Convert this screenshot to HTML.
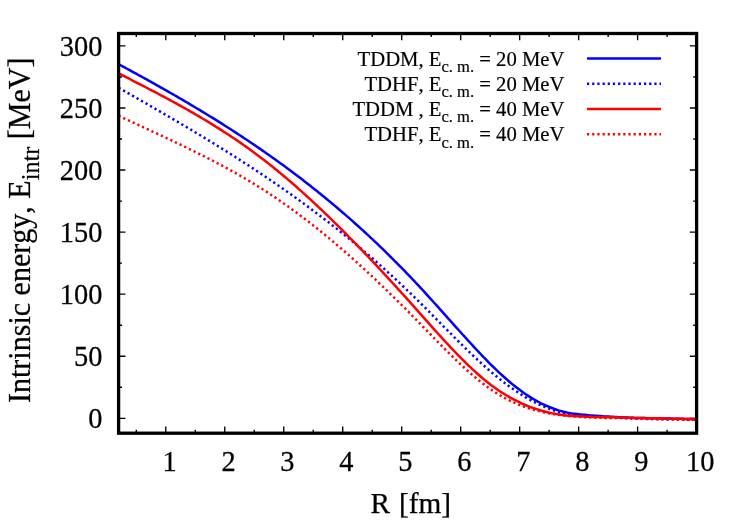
<!DOCTYPE html>
<html><head><meta charset="utf-8"><title>Intrinsic energy</title>
<style>
html,body{margin:0;padding:0;background:#fff;}
body{width:747px;height:523px;overflow:hidden;font-family:"Liberation Serif",serif;}
svg{display:block;will-change:transform;}
text{font-family:"Liberation Serif",serif;fill:#000;font-kerning:none;font-variant-ligatures:none;stroke:#000;stroke-width:0.25px;stroke-linejoin:round;}
.lg text{stroke-width:0.18px;}
</style></head><body>
<svg width="747" height="523" viewBox="0 0 747 523">
<rect width="747" height="523" fill="#fff"/>
<g stroke="#000" stroke-width="1.35" fill="none">
<path d="M136.29,433.2 v-3.4 M136.29,33.5 v3.4"/><path d="M165.78,433.2 v-6.8 M165.78,33.5 v6.8"/><path d="M195.27,433.2 v-3.4 M195.27,33.5 v3.4"/><path d="M224.76,433.2 v-6.8 M224.76,33.5 v6.8"/><path d="M254.25,433.2 v-3.4 M254.25,33.5 v3.4"/><path d="M283.74,433.2 v-6.8 M283.74,33.5 v6.8"/><path d="M313.23,433.2 v-3.4 M313.23,33.5 v3.4"/><path d="M342.72,433.2 v-6.8 M342.72,33.5 v6.8"/><path d="M372.21,433.2 v-3.4 M372.21,33.5 v3.4"/><path d="M401.70,433.2 v-6.8 M401.70,33.5 v6.8"/><path d="M431.19,433.2 v-3.4 M431.19,33.5 v3.4"/><path d="M460.68,433.2 v-6.8 M460.68,33.5 v6.8"/><path d="M490.17,433.2 v-3.4 M490.17,33.5 v3.4"/><path d="M519.66,433.2 v-6.8 M519.66,33.5 v6.8"/><path d="M549.15,433.2 v-3.4 M549.15,33.5 v3.4"/><path d="M578.64,433.2 v-6.8 M578.64,33.5 v6.8"/><path d="M608.13,433.2 v-3.4 M608.13,33.5 v3.4"/><path d="M637.62,433.2 v-6.8 M637.62,33.5 v6.8"/><path d="M667.11,433.2 v-3.4 M667.11,33.5 v3.4"/><path d="M696.60,433.2 v-6.8 M696.60,33.5 v6.8"/><path d="M118.6,418.30 h6.8 M696.6,418.30 h-6.8"/><path d="M118.6,387.27 h3.4 M696.6,387.27 h-3.4"/><path d="M118.6,356.24 h6.8 M696.6,356.24 h-6.8"/><path d="M118.6,325.21 h3.4 M696.6,325.21 h-3.4"/><path d="M118.6,294.17 h6.8 M696.6,294.17 h-6.8"/><path d="M118.6,263.14 h3.4 M696.6,263.14 h-3.4"/><path d="M118.6,232.11 h6.8 M696.6,232.11 h-6.8"/><path d="M118.6,201.08 h3.4 M696.6,201.08 h-3.4"/><path d="M118.6,170.04 h6.8 M696.6,170.04 h-6.8"/><path d="M118.6,139.01 h3.4 M696.6,139.01 h-3.4"/><path d="M118.6,107.98 h6.8 M696.6,107.98 h-6.8"/><path d="M118.6,76.95 h3.4 M696.6,76.95 h-3.4"/><path d="M118.6,45.91 h6.8 M696.6,45.91 h-6.8"/>
</g>
<g fill="none" stroke-width="2.5" stroke-linejoin="round">
<path d="M118.6,64.20 L120.6,65.27 L122.6,66.35 L124.6,67.44 L126.6,68.52 L128.6,69.61 L130.6,70.69 L132.6,71.78 L134.6,72.87 L136.6,73.97 L138.6,75.06 L140.6,76.16 L142.6,77.26 L144.6,78.37 L146.6,79.47 L148.6,80.58 L150.6,81.70 L152.6,82.81 L154.6,83.93 L156.6,85.05 L158.6,86.17 L160.6,87.30 L162.6,88.43 L164.6,89.56 L166.6,90.70 L168.6,91.84 L170.6,92.98 L172.6,94.13 L174.6,95.28 L176.6,96.43 L178.6,97.59 L180.6,98.75 L182.6,99.92 L184.6,101.09 L186.6,102.26 L188.6,103.44 L190.6,104.63 L192.6,105.81 L194.6,107.00 L196.6,108.20 L198.6,109.40 L200.6,110.60 L202.6,111.81 L204.6,113.03 L206.6,114.25 L208.6,115.47 L210.6,116.70 L212.6,117.93 L214.6,119.17 L216.6,120.41 L218.6,121.66 L220.6,122.92 L222.6,124.18 L224.6,125.44 L226.6,126.72 L228.6,127.99 L230.6,129.27 L232.6,130.56 L234.6,131.86 L236.6,133.16 L238.6,134.46 L240.6,135.77 L242.6,137.09 L244.6,138.42 L246.6,139.75 L248.6,141.08 L250.6,142.43 L252.6,143.78 L254.6,145.13 L256.6,146.50 L258.6,147.87 L260.6,149.24 L262.6,150.63 L264.6,152.02 L266.6,153.41 L268.6,154.82 L270.6,156.23 L272.6,157.65 L274.6,159.07 L276.6,160.51 L278.6,161.95 L280.6,163.40 L282.6,164.85 L284.6,166.32 L286.6,167.79 L288.6,169.27 L290.6,170.75 L292.6,172.25 L294.6,173.75 L296.6,175.26 L298.6,176.78 L300.6,178.31 L302.6,179.85 L304.6,181.39 L306.6,182.94 L308.6,184.50 L310.6,186.07 L312.6,187.65 L314.6,189.24 L316.6,190.84 L318.6,192.44 L320.6,194.06 L322.6,195.68 L324.6,197.31 L326.6,198.95 L328.6,200.60 L330.6,202.27 L332.6,203.93 L334.6,205.61 L336.6,207.30 L338.6,209.00 L340.6,210.71 L342.6,212.43 L344.6,214.16 L346.6,215.89 L348.6,217.64 L350.6,219.40 L352.6,221.17 L354.6,222.94 L356.6,224.73 L358.6,226.53 L360.6,228.34 L362.6,230.16 L364.6,231.99 L366.6,233.83 L368.6,235.69 L370.6,237.55 L372.6,239.42 L374.6,241.31 L376.6,243.20 L378.6,245.11 L380.6,247.03 L382.6,248.96 L384.6,250.90 L386.6,252.85 L388.6,254.81 L390.6,256.79 L392.6,258.77 L394.6,260.77 L396.6,262.78 L398.6,264.80 L400.6,266.84 L402.6,268.88 L404.6,270.94 L406.6,273.01 L408.6,275.09 L410.6,277.19 L412.6,279.30 L414.6,281.41 L416.6,283.55 L418.6,285.69 L420.6,287.85 L422.6,290.02 L424.6,292.19 L426.6,294.38 L428.6,296.58 L430.6,298.79 L432.6,301.00 L434.6,303.22 L436.6,305.44 L438.6,307.67 L440.6,309.91 L442.6,312.14 L444.6,314.38 L446.6,316.62 L448.6,318.86 L450.6,321.10 L452.6,323.33 L454.6,325.57 L456.6,327.80 L458.6,330.03 L460.6,332.25 L462.6,334.47 L464.6,336.68 L466.6,338.88 L468.6,341.08 L470.6,343.26 L472.6,345.44 L474.6,347.60 L476.6,349.75 L478.6,351.89 L480.6,354.00 L482.6,356.10 L484.6,358.18 L486.6,360.24 L488.6,362.27 L490.6,364.28 L492.6,366.26 L494.6,368.22 L496.6,370.14 L498.6,372.04 L500.6,373.90 L502.6,375.73 L504.6,377.53 L506.6,379.29 L508.6,381.02 L510.6,382.71 L512.6,384.36 L514.6,385.97 L516.6,387.55 L518.6,389.08 L520.6,390.57 L522.6,392.02 L524.6,393.43 L526.6,394.79 L528.6,396.10 L530.6,397.37 L532.6,398.59 L534.6,399.77 L536.6,400.90 L538.6,401.98 L540.6,403.02 L542.6,404.01 L544.6,404.96 L546.6,405.86 L548.6,406.72 L550.6,407.53 L552.6,408.29 L554.6,409.02 L556.6,409.69 L558.6,410.33 L560.6,410.92 L562.6,411.47 L564.6,411.97 L566.6,412.43 L568.6,412.85 L570.6,413.23 L572.6,413.56 L574.6,413.82 L576.6,414.06 L578.6,414.28 L580.6,414.49 L582.6,414.68 L584.6,414.86 L586.6,415.04 L588.6,415.21 L590.6,415.38 L592.6,415.54 L594.6,415.69 L596.6,415.84 L598.6,415.98 L600.6,416.12 L602.6,416.25 L604.6,416.38 L606.6,416.50 L608.6,416.61 L610.6,416.72 L612.6,416.83 L614.6,416.93 L616.6,417.03 L618.6,417.13 L620.6,417.23 L622.6,417.33 L624.6,417.44 L626.6,417.54 L628.6,417.64 L630.6,417.74 L632.6,417.82 L634.6,417.89 L636.6,417.94 L638.6,418.00 L640.6,418.04 L642.6,418.09 L644.6,418.12 L646.6,418.16 L648.6,418.20 L650.6,418.23 L652.6,418.27 L654.6,418.30 L656.6,418.34 L658.6,418.37 L660.6,418.41 L662.6,418.45 L664.6,418.49 L666.6,418.53 L668.6,418.57 L670.6,418.61 L672.6,418.65 L674.6,418.69 L676.6,418.73 L678.6,418.77 L680.6,418.81 L682.6,418.85 L684.6,418.89 L686.6,418.92 L688.6,418.96 L690.6,419.00 L692.6,419.03 L694.6,419.07 L696.6,419.10" stroke="#0000ff"/>
<path d="M118.6,87.75 L120.6,88.90 L122.6,90.04 L124.6,91.18 L126.6,92.32 L128.6,93.46 L130.6,94.61 L132.6,95.75 L134.6,96.89 L136.6,98.04 L138.6,99.19 L140.6,100.33 L142.6,101.48 L144.6,102.63 L146.6,103.78 L148.6,104.93 L150.6,106.08 L152.6,107.23 L154.6,108.39 L156.6,109.55 L158.6,110.70 L160.6,111.86 L162.6,113.02 L164.6,114.19 L166.6,115.35 L168.6,116.52 L170.6,117.69 L172.6,118.86 L174.6,120.03 L176.6,121.20 L178.6,122.38 L180.6,123.56 L182.6,124.74 L184.6,125.93 L186.6,127.11 L188.6,128.30 L190.6,129.50 L192.6,130.69 L194.6,131.89 L196.6,133.09 L198.6,134.29 L200.6,135.50 L202.6,136.71 L204.6,137.92 L206.6,139.14 L208.6,140.36 L210.6,141.58 L212.6,142.81 L214.6,144.04 L216.6,145.27 L218.6,146.51 L220.6,147.75 L222.6,148.99 L224.6,150.24 L226.6,151.49 L228.6,152.75 L230.6,154.01 L232.6,155.28 L234.6,156.55 L236.6,157.82 L238.6,159.10 L240.6,160.38 L242.6,161.67 L244.6,162.96 L246.6,164.26 L248.6,165.56 L250.6,166.86 L252.6,168.17 L254.6,169.49 L256.6,170.81 L258.6,172.14 L260.6,173.47 L262.6,174.81 L264.6,176.15 L266.6,177.49 L268.6,178.85 L270.6,180.21 L272.6,181.57 L274.6,182.94 L276.6,184.32 L278.6,185.70 L280.6,187.08 L282.6,188.48 L284.6,189.88 L286.6,191.28 L288.6,192.70 L290.6,194.11 L292.6,195.54 L294.6,196.97 L296.6,198.41 L298.6,199.85 L300.6,201.30 L302.6,202.76 L304.6,204.22 L306.6,205.69 L308.6,207.17 L310.6,208.66 L312.6,210.15 L314.6,211.65 L316.6,213.15 L318.6,214.67 L320.6,216.19 L322.6,217.72 L324.6,219.25 L326.6,220.80 L328.6,222.35 L330.6,223.91 L332.6,225.48 L334.6,227.05 L336.6,228.63 L338.6,230.22 L340.6,231.82 L342.6,233.43 L344.6,235.05 L346.6,236.67 L348.6,238.30 L350.6,239.94 L352.6,241.59 L354.6,243.25 L356.6,244.91 L358.6,246.59 L360.6,248.27 L362.6,249.97 L364.6,251.67 L366.6,253.38 L368.6,255.10 L370.6,256.83 L372.6,258.56 L374.6,260.31 L376.6,262.07 L378.6,263.84 L380.6,265.61 L382.6,267.40 L384.6,269.19 L386.6,271.00 L388.6,272.81 L390.6,274.64 L392.6,276.47 L394.6,278.32 L396.6,280.17 L398.6,282.04 L400.6,283.91 L402.6,285.80 L404.6,287.69 L406.6,289.60 L408.6,291.52 L410.6,293.44 L412.6,295.38 L414.6,297.33 L416.6,299.29 L418.6,301.26 L420.6,303.24 L422.6,305.23 L424.6,307.23 L426.6,309.23 L428.6,311.24 L430.6,313.26 L432.6,315.28 L434.6,317.30 L436.6,319.33 L438.6,321.36 L440.6,323.38 L442.6,325.41 L444.6,327.44 L446.6,329.46 L448.6,331.48 L450.6,333.49 L452.6,335.50 L454.6,337.51 L456.6,339.51 L458.6,341.50 L460.6,343.48 L462.6,345.45 L464.6,347.41 L466.6,349.35 L468.6,351.29 L470.6,353.21 L472.6,355.12 L474.6,357.01 L476.6,358.88 L478.6,360.74 L480.6,362.58 L482.6,364.40 L484.6,366.20 L486.6,367.98 L488.6,369.73 L490.6,371.47 L492.6,373.18 L494.6,374.86 L496.6,376.52 L498.6,378.15 L500.6,379.76 L502.6,381.33 L504.6,382.88 L506.6,384.39 L508.6,385.88 L510.6,387.33 L512.6,388.76 L514.6,390.15 L516.6,391.51 L518.6,392.84 L520.6,394.13 L522.6,395.39 L524.6,396.62 L526.6,397.81 L528.6,398.97 L530.6,400.10 L532.6,401.19 L534.6,402.24 L536.6,403.26 L538.6,404.24 L540.6,405.18 L542.6,406.09 L544.6,406.96 L546.6,407.79 L548.6,408.58 L550.6,409.33 L552.6,410.04 L554.6,410.71 L556.6,411.35 L558.6,411.94 L560.6,412.49 L562.6,413.00 L564.6,413.46 L566.6,413.89 L568.6,414.27 L570.6,414.62 L572.6,414.90 L574.6,415.13 L576.6,415.34 L578.6,415.53 L580.6,415.70 L582.6,415.86 L584.6,416.01 L586.6,416.16 L588.6,416.30 L590.6,416.44 L592.6,416.58 L594.6,416.72 L596.6,416.85 L598.6,416.97 L600.6,417.08 L602.6,417.19 L604.6,417.28 L606.6,417.37 L608.6,417.44 L610.6,417.50 L612.6,417.57 L614.6,417.63 L616.6,417.69 L618.6,417.75 L620.6,417.82 L622.6,417.90 L624.6,417.98 L626.6,418.07 L628.6,418.15 L630.6,418.24 L632.6,418.31 L634.6,418.39 L636.6,418.45 L638.6,418.52 L640.6,418.58 L642.6,418.64 L644.6,418.70 L646.6,418.76 L648.6,418.81 L650.6,418.87 L652.6,418.92 L654.6,418.97 L656.6,419.02 L658.6,419.07 L660.6,419.11 L662.6,419.16 L664.6,419.20 L666.6,419.24 L668.6,419.28 L670.6,419.32 L672.6,419.36 L674.6,419.40 L676.6,419.44 L678.6,419.47 L680.6,419.51 L682.6,419.55 L684.6,419.59 L686.6,419.62 L688.6,419.66 L690.6,419.70 L692.6,419.73 L694.6,419.77 L696.6,419.80" stroke="#0000ff" stroke-dasharray="2.2 2.98"/>
<path d="M118.6,73.35 L120.6,74.38 L122.6,75.40 L124.6,76.43 L126.6,77.45 L128.6,78.47 L130.6,79.50 L132.6,80.52 L134.6,81.55 L136.6,82.58 L138.6,83.61 L140.6,84.64 L142.6,85.67 L144.6,86.70 L146.6,87.74 L148.6,88.78 L150.6,89.82 L152.6,90.86 L154.6,91.91 L156.6,92.96 L158.6,94.02 L160.6,95.08 L162.6,96.14 L164.6,97.20 L166.6,98.27 L168.6,99.35 L170.6,100.43 L172.6,101.52 L174.6,102.61 L176.6,103.70 L178.6,104.80 L180.6,105.91 L182.6,107.02 L184.6,108.14 L186.6,109.27 L188.6,110.40 L190.6,111.54 L192.6,112.69 L194.6,113.84 L196.6,115.00 L198.6,116.17 L200.6,117.35 L202.6,118.54 L204.6,119.73 L206.6,120.93 L208.6,122.14 L210.6,123.36 L212.6,124.59 L214.6,125.83 L216.6,127.08 L218.6,128.34 L220.6,129.61 L222.6,130.89 L224.6,132.18 L226.6,133.48 L228.6,134.79 L230.6,136.11 L232.6,137.45 L234.6,138.79 L236.6,140.15 L238.6,141.52 L240.6,142.90 L242.6,144.29 L244.6,145.70 L246.6,147.12 L248.6,148.55 L250.6,150.00 L252.6,151.46 L254.6,152.93 L256.6,154.42 L258.6,155.92 L260.6,157.43 L262.6,158.96 L264.6,160.51 L266.6,162.07 L268.6,163.64 L270.6,165.22 L272.6,166.82 L274.6,168.44 L276.6,170.07 L278.6,171.71 L280.6,173.36 L282.6,175.03 L284.6,176.71 L286.6,178.40 L288.6,180.10 L290.6,181.82 L292.6,183.55 L294.6,185.30 L296.6,187.05 L298.6,188.82 L300.6,190.60 L302.6,192.39 L304.6,194.19 L306.6,196.00 L308.6,197.83 L310.6,199.67 L312.6,201.51 L314.6,203.37 L316.6,205.24 L318.6,207.12 L320.6,209.01 L322.6,210.91 L324.6,212.83 L326.6,214.75 L328.6,216.68 L330.6,218.62 L332.6,220.57 L334.6,222.53 L336.6,224.50 L338.6,226.48 L340.6,228.47 L342.6,230.47 L344.6,232.48 L346.6,234.50 L348.6,236.52 L350.6,238.55 L352.6,240.60 L354.6,242.65 L356.6,244.70 L358.6,246.77 L360.6,248.85 L362.6,250.93 L364.6,253.02 L366.6,255.11 L368.6,257.22 L370.6,259.33 L372.6,261.45 L374.6,263.58 L376.6,265.71 L378.6,267.85 L380.6,269.99 L382.6,272.15 L384.6,274.31 L386.6,276.47 L388.6,278.64 L390.6,280.82 L392.6,283.00 L394.6,285.19 L396.6,287.38 L398.6,289.58 L400.6,291.79 L402.6,294.00 L404.6,296.21 L406.6,298.43 L408.6,300.66 L410.6,302.88 L412.6,305.12 L414.6,307.36 L416.6,309.60 L418.6,311.84 L420.6,314.09 L422.6,316.34 L424.6,318.59 L426.6,320.84 L428.6,323.08 L430.6,325.33 L432.6,327.57 L434.6,329.80 L436.6,332.02 L438.6,334.24 L440.6,336.44 L442.6,338.64 L444.6,340.82 L446.6,342.99 L448.6,345.14 L450.6,347.27 L452.6,349.39 L454.6,351.49 L456.6,353.57 L458.6,355.63 L460.6,357.67 L462.6,359.68 L464.6,361.67 L466.6,363.63 L468.6,365.56 L470.6,367.47 L472.6,369.34 L474.6,371.19 L476.6,373.00 L478.6,374.77 L480.6,376.52 L482.6,378.22 L484.6,379.89 L486.6,381.52 L488.6,383.10 L490.6,384.65 L492.6,386.15 L494.6,387.61 L496.6,389.03 L498.6,390.41 L500.6,391.74 L502.6,393.04 L504.6,394.29 L506.6,395.50 L508.6,396.67 L510.6,397.81 L512.6,398.90 L514.6,399.96 L516.6,400.98 L518.6,401.96 L520.6,402.90 L522.6,403.81 L524.6,404.68 L526.6,405.52 L528.6,406.32 L530.6,407.09 L532.6,407.82 L534.6,408.52 L536.6,409.18 L538.6,409.81 L540.6,410.41 L542.6,410.98 L544.6,411.52 L546.6,412.03 L548.6,412.50 L550.6,412.95 L552.6,413.36 L554.6,413.75 L556.6,414.11 L558.6,414.44 L560.6,414.74 L562.6,415.02 L564.6,415.27 L566.6,415.49 L568.6,415.69 L570.6,415.86 L572.6,416.00 L574.6,416.12 L576.6,416.23 L578.6,416.34 L580.6,416.43 L582.6,416.52 L584.6,416.60 L586.6,416.67 L588.6,416.75 L590.6,416.81 L592.6,416.88 L594.6,416.94 L596.6,417.00 L598.6,417.06 L600.6,417.11 L602.6,417.15 L604.6,417.19 L606.6,417.23 L608.6,417.25 L610.6,417.28 L612.6,417.30 L614.6,417.32 L616.6,417.35 L618.6,417.38 L620.6,417.41 L622.6,417.46 L624.6,417.53 L626.6,417.60 L628.6,417.68 L630.6,417.76 L632.6,417.83 L634.6,417.89 L636.6,417.94 L638.6,417.99 L640.6,418.03 L642.6,418.07 L644.6,418.11 L646.6,418.15 L648.6,418.19 L650.6,418.22 L652.6,418.26 L654.6,418.30 L656.6,418.33 L658.6,418.37 L660.6,418.41 L662.6,418.45 L664.6,418.49 L666.6,418.53 L668.6,418.57 L670.6,418.61 L672.6,418.65 L674.6,418.69 L676.6,418.73 L678.6,418.77 L680.6,418.81 L682.6,418.85 L684.6,418.89 L686.6,418.92 L688.6,418.96 L690.6,419.00 L692.6,419.03 L694.6,419.07 L696.6,419.10" stroke="#ff0000"/>
<path d="M118.6,115.73 L120.6,116.68 L122.6,117.62 L124.6,118.56 L126.6,119.49 L128.6,120.43 L130.6,121.36 L132.6,122.29 L134.6,123.22 L136.6,124.15 L138.6,125.08 L140.6,126.01 L142.6,126.94 L144.6,127.86 L146.6,128.79 L148.6,129.72 L150.6,130.64 L152.6,131.57 L154.6,132.50 L156.6,133.43 L158.6,134.36 L160.6,135.29 L162.6,136.23 L164.6,137.16 L166.6,138.10 L168.6,139.04 L170.6,139.98 L172.6,140.92 L174.6,141.87 L176.6,142.82 L178.6,143.77 L180.6,144.73 L182.6,145.69 L184.6,146.65 L186.6,147.62 L188.6,148.59 L190.6,149.57 L192.6,150.55 L194.6,151.53 L196.6,152.52 L198.6,153.52 L200.6,154.52 L202.6,155.52 L204.6,156.53 L206.6,157.55 L208.6,158.58 L210.6,159.61 L212.6,160.64 L214.6,161.68 L216.6,162.73 L218.6,163.79 L220.6,164.86 L222.6,165.93 L224.6,167.01 L226.6,168.10 L228.6,169.19 L230.6,170.30 L232.6,171.41 L234.6,172.53 L236.6,173.66 L238.6,174.80 L240.6,175.95 L242.6,177.10 L244.6,178.27 L246.6,179.45 L248.6,180.64 L250.6,181.84 L252.6,183.04 L254.6,184.26 L256.6,185.49 L258.6,186.74 L260.6,187.99 L262.6,189.25 L264.6,190.53 L266.6,191.82 L268.6,193.12 L270.6,194.43 L272.6,195.75 L274.6,197.09 L276.6,198.44 L278.6,199.80 L280.6,201.18 L282.6,202.57 L284.6,203.97 L286.6,205.38 L288.6,206.81 L290.6,208.25 L292.6,209.70 L294.6,211.16 L296.6,212.64 L298.6,214.13 L300.6,215.63 L302.6,217.14 L304.6,218.67 L306.6,220.20 L308.6,221.75 L310.6,223.31 L312.6,224.88 L314.6,226.46 L316.6,228.05 L318.6,229.66 L320.6,231.27 L322.6,232.90 L324.6,234.54 L326.6,236.19 L328.6,237.85 L330.6,239.51 L332.6,241.19 L334.6,242.89 L336.6,244.59 L338.6,246.30 L340.6,248.02 L342.6,249.75 L344.6,251.49 L346.6,253.24 L348.6,255.01 L350.6,256.78 L352.6,258.56 L354.6,260.35 L356.6,262.15 L358.6,263.96 L360.6,265.77 L362.6,267.60 L364.6,269.44 L366.6,271.28 L368.6,273.14 L370.6,275.00 L372.6,276.87 L374.6,278.75 L376.6,280.64 L378.6,282.54 L380.6,284.45 L382.6,286.36 L384.6,288.28 L386.6,290.21 L388.6,292.15 L390.6,294.10 L392.6,296.05 L394.6,298.02 L396.6,299.99 L398.6,301.96 L400.6,303.95 L402.6,305.94 L404.6,307.94 L406.6,309.95 L408.6,311.96 L410.6,313.98 L412.6,316.01 L414.6,318.04 L416.6,320.08 L418.6,322.13 L420.6,324.18 L422.6,326.24 L424.6,328.30 L426.6,330.36 L428.6,332.42 L430.6,334.48 L432.6,336.53 L434.6,338.59 L436.6,340.63 L438.6,342.67 L440.6,344.71 L442.6,346.73 L444.6,348.74 L446.6,350.75 L448.6,352.74 L450.6,354.71 L452.6,356.67 L454.6,358.61 L456.6,360.54 L458.6,362.44 L460.6,364.33 L462.6,366.19 L464.6,368.03 L466.6,369.84 L468.6,371.63 L470.6,373.39 L472.6,375.13 L474.6,376.83 L476.6,378.50 L478.6,380.14 L480.6,381.75 L482.6,383.32 L484.6,384.85 L486.6,386.35 L488.6,387.81 L490.6,389.23 L492.6,390.60 L494.6,391.94 L496.6,393.23 L498.6,394.47 L500.6,395.67 L502.6,396.82 L504.6,397.93 L506.6,399.00 L508.6,400.03 L510.6,401.01 L512.6,401.96 L514.6,402.86 L516.6,403.73 L518.6,404.56 L520.6,405.36 L522.6,406.12 L524.6,406.84 L526.6,407.53 L528.6,408.19 L530.6,408.82 L532.6,409.42 L534.6,409.99 L536.6,410.53 L538.6,411.05 L540.6,411.53 L542.6,411.99 L544.6,412.43 L546.6,412.84 L548.6,413.23 L550.6,413.60 L552.6,413.95 L554.6,414.27 L556.6,414.58 L558.6,414.86 L560.6,415.13 L562.6,415.38 L564.6,415.61 L566.6,415.83 L568.6,416.03 L570.6,416.22 L572.6,416.39 L574.6,416.53 L576.6,416.67 L578.6,416.80 L580.6,416.92 L582.6,417.04 L584.6,417.15 L586.6,417.25 L588.6,417.34 L590.6,417.43 L592.6,417.51 L594.6,417.59 L596.6,417.66 L598.6,417.73 L600.6,417.79 L602.6,417.85 L604.6,417.89 L606.6,417.93 L608.6,417.96 L610.6,417.98 L612.6,418.00 L614.6,418.02 L616.6,418.05 L618.6,418.08 L620.6,418.11 L622.6,418.16 L624.6,418.23 L626.6,418.30 L628.6,418.37 L630.6,418.45 L632.6,418.52 L634.6,418.59 L636.6,418.64 L638.6,418.70 L640.6,418.75 L642.6,418.80 L644.6,418.85 L646.6,418.90 L648.6,418.95 L650.6,418.99 L652.6,419.04 L654.6,419.08 L656.6,419.13 L658.6,419.17 L660.6,419.21 L662.6,419.26 L664.6,419.30 L666.6,419.34 L668.6,419.38 L670.6,419.42 L672.6,419.46 L674.6,419.50 L676.6,419.54 L678.6,419.57 L680.6,419.61 L682.6,419.65 L684.6,419.69 L686.6,419.72 L688.6,419.76 L690.6,419.80 L692.6,419.83 L694.6,419.87 L696.6,419.90" stroke="#ff0000" stroke-dasharray="2.2 2.98"/>
<path d="M587,58.4 H661" stroke="#0000ff"/><path d="M587,83.7 H661" stroke="#0000ff" stroke-dasharray="2.2 2.98"/><path d="M587,109.0 H661" stroke="#ff0000"/><path d="M587,134.3 H661" stroke="#ff0000" stroke-dasharray="2.2 2.98"/>
</g>
<rect x="118.6" y="33.5" width="578.0" height="399.7" fill="none" stroke="#000" stroke-width="3.3"/>
<g font-size="28.4">
<text transform="translate(169.5,470.6) scale(1,1.03)" text-anchor="middle">1</text><text transform="translate(228.5,470.6) scale(1,1.03)" text-anchor="middle">2</text><text transform="translate(287.4,470.6) scale(1,1.03)" text-anchor="middle">3</text><text transform="translate(346.4,470.6) scale(1,1.03)" text-anchor="middle">4</text><text transform="translate(405.4,470.6) scale(1,1.03)" text-anchor="middle">5</text><text transform="translate(464.4,470.6) scale(1,1.03)" text-anchor="middle">6</text><text transform="translate(523.4,470.6) scale(1,1.03)" text-anchor="middle">7</text><text transform="translate(582.3,470.6) scale(1,1.03)" text-anchor="middle">8</text><text transform="translate(641.3,470.6) scale(1,1.03)" text-anchor="middle">9</text><text transform="translate(700.3,470.6) scale(1,1.03)" text-anchor="middle">10</text>
<text transform="translate(102.4,428.0) scale(1,1.03)" text-anchor="end">0</text><text transform="translate(102.4,365.9) scale(1,1.03)" text-anchor="end">50</text><text transform="translate(102.4,303.9) scale(1,1.03)" text-anchor="end">100</text><text transform="translate(102.4,241.8) scale(1,1.03)" text-anchor="end">150</text><text transform="translate(102.4,179.7) scale(1,1.03)" text-anchor="end">200</text><text transform="translate(102.4,117.7) scale(1,1.03)" text-anchor="end">250</text><text transform="translate(102.4,55.6) scale(1,1.03)" text-anchor="end">300</text>
</g>
<text x="410.8" y="513.2" text-anchor="middle" font-size="29.3" word-spacing="1.5">R [fm]</text>
<text transform="translate(29.9,230.3) rotate(-90) scale(1,1.03)" text-anchor="middle" font-size="30.05">Intrinsic energy, E<tspan font-size="24.1" dy="8.4">intr</tspan><tspan dy="-8.4"> [MeV]</tspan></text>
<g class="lg"><text x="564.5" y="66.0" text-anchor="end" font-size="20.7">TDDM, E<tspan font-size="16.56" dy="6.2">c. m.</tspan><tspan dy="-6.2"> = 20 MeV</tspan></text><text x="564.5" y="91.2" text-anchor="end" font-size="20.7">TDHF, E<tspan font-size="16.56" dy="6.2">c. m.</tspan><tspan dy="-6.2"> = 20 MeV</tspan></text><text x="564.5" y="116.2" text-anchor="end" font-size="20.7">TDDM , E<tspan font-size="16.56" dy="6.2">c. m.</tspan><tspan dy="-6.2"> = 40 MeV</tspan></text><text x="564.5" y="141.4" text-anchor="end" font-size="20.7">TDHF, E<tspan font-size="16.56" dy="6.2">c. m.</tspan><tspan dy="-6.2"> = 40 MeV</tspan></text></g>
</svg>
</body></html>
